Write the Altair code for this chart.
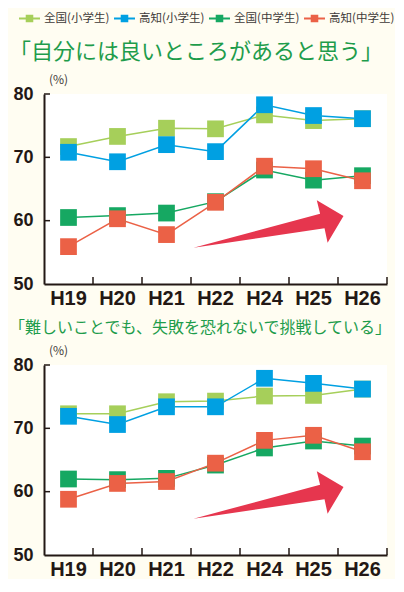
import altair as alt
import pandas as pd

cats = ["H19", "H20", "H21", "H22", "H24", "H25", "H26"]
series = ["全国(小学生)", "高知(小学生)", "全国(中学生)", "高知(中学生)"]
colors = ["#a6cf5a", "#00a0e2", "#16a862", "#eb6146"]

title1 = "「自分には良いところがあると思う」"
c1_nat_elem = [71.7, 73.3, 74.6, 74.5, 76.7, 75.8, 76.1]
c1_kochi_elem = [70.8, 69.3, 72.0, 70.9, 78.3, 76.6, 76.1]
c1_nat_jh = [60.5, 60.8, 61.2, 63.0, 68.0, 66.4, 67.1]
c1_kochi_jh = [55.9, 60.3, 57.8, 62.9, 68.6, 68.2, 66.3]

title2 = "「難しいことでも、失敗を恐れないで挑戦している」"
c2_nat_elem = [72.3, 72.3, 74.2, 74.3, 75.1, 75.2, 76.2]
c2_kochi_elem = [71.9, 70.6, 73.4, 73.4, 77.9, 77.1, 76.2]
c2_nat_jh = [62.0, 61.9, 62.1, 64.2, 66.9, 68.0, 67.2]
c2_kochi_jh = [58.8, 61.3, 61.6, 64.5, 68.1, 68.9, 66.3]

y_ticks = [50, 60, 70, 80]

W, H = 343, 190
AXIS = "#231815"
ARROW = "M -1 0.316 L 0.688 -0.137 L 0.644 -0.316 L 1 -0.107 L 0.788 0.249 L 0.747 0.057 Z"
LEG_SYM = ("M -1 -0.09 L -0.36 -0.09 L -0.36 -0.36 L 0.36 -0.36 L 0.36 -0.09 L 1 -0.09 "
           "L 1 0.09 L 0.36 0.09 L 0.36 0.36 L -0.36 0.36 L -0.36 0.09 L -1 0.09 Z")


def frame(vals):
    rows = []
    for i, (s, v) in enumerate(zip(series, vals)):
        for c, val in zip(cats, v):
            rows.append({"cat": c, "series": s, "value": val, "ord": i})
    return pd.DataFrame(rows)


def panel(vals, title, fs, toff, show_legend):
    df = frame(vals)
    x = alt.X("cat:N", sort=cats,
              scale=alt.Scale(paddingInner=0, paddingOuter=0),
              axis=alt.Axis(title=None, labelAngle=0, ticks=False, domainColor=AXIS,
                            domainWidth=2, labelFont="Liberation Sans", labelFontWeight="bold",
                            labelFontSize=20, labelColor=AXIS, labelPadding=4))
    y = alt.Y("value:Q", scale=alt.Scale(domain=[50, 80], nice=False, zero=False),
              axis=alt.Axis(values=y_ticks, title="(%)", titleAngle=0, titleAlign="center",
                            titleBaseline="bottom", titleX=14, titleY=-8, titleFontSize=12,
                            titleFontWeight="normal", titleColor="#3e3a39",
                            titleFont="Noto Sans CJK JP",
                            ticks=False, grid=False, domainColor=AXIS, domainWidth=2,
                            labelFont="Liberation Sans", labelFontWeight="bold",
                            labelFontSize=18, labelColor=AXIS, labelPadding=11))
    if show_legend:
        leg = alt.Legend(title=None, orient="none", direction="horizontal",
                         legendX=-25, legendY=-86, padding=0,
                         symbolType=LEG_SYM, symbolSize=440,
                         symbolStrokeWidth=0, labelFontSize=11.5,
                         labelFont="Noto Sans CJK JP", labelColor="#3e3a39",
                         columnPadding=4, labelOffset=4)
    else:
        leg = None
    color = alt.Color("series:N", sort=series,
                      scale=alt.Scale(domain=series, range=colors), legend=leg)
    base = alt.Chart(df)
    lines = base.mark_line(strokeWidth=1.5).encode(
        x=x, y=y, color=color, detail="series:N")
    pts = base.mark_point(shape="square", filled=True, size=280, opacity=1).encode(
        x=x, y=y, color=color, order=alt.Order("ord:Q"))
    ytk = alt.Chart(pd.DataFrame({"t": y_ticks[1:]})).mark_rule(color=AXIS, strokeWidth=1.5).encode(
        y="t:Q", x=alt.value(0), x2=alt.value(6))
    xtk = alt.Chart(pd.DataFrame({"c": cats})).mark_rule(color=AXIS, strokeWidth=1.5).encode(
        x=alt.X("c:N", sort=cats, bandPosition=1), y=alt.value(H - 7), y2=alt.value(H))
    arrow = alt.Chart(pd.DataFrame({"a": [0]})).mark_point(
        shape=ARROW, size=22500, filled=True, opacity=1, color="#e6364e", strokeWidth=0
    ).encode(x=alt.value(224.5), y=alt.value(130))
    return alt.layer(lines, pts, ytk, xtk, arrow).properties(
        width=W, height=H,
        title=alt.TitleParams(title, color="#1e9c4b", fontSize=fs, font="Noto Sans CJK JP",
                              fontWeight="normal", anchor="start", dx=-4, offset=toff))


p1 = panel([c1_nat_elem, c1_kochi_elem, c1_nat_jh, c1_kochi_jh], title1, 22, -56, True)
p2 = panel([c2_nat_elem, c2_kochi_elem, c2_nat_jh, c2_kochi_jh], title2, 16, 8, False)

chart = alt.vconcat(p1, p2, spacing=12, padding=0).resolve_legend(color="independent").configure(
    background="#fffdf2").configure_view(fill="white", stroke=None)

chart.save("out.html", embed_options={"renderer": "svg", "actions": False})
